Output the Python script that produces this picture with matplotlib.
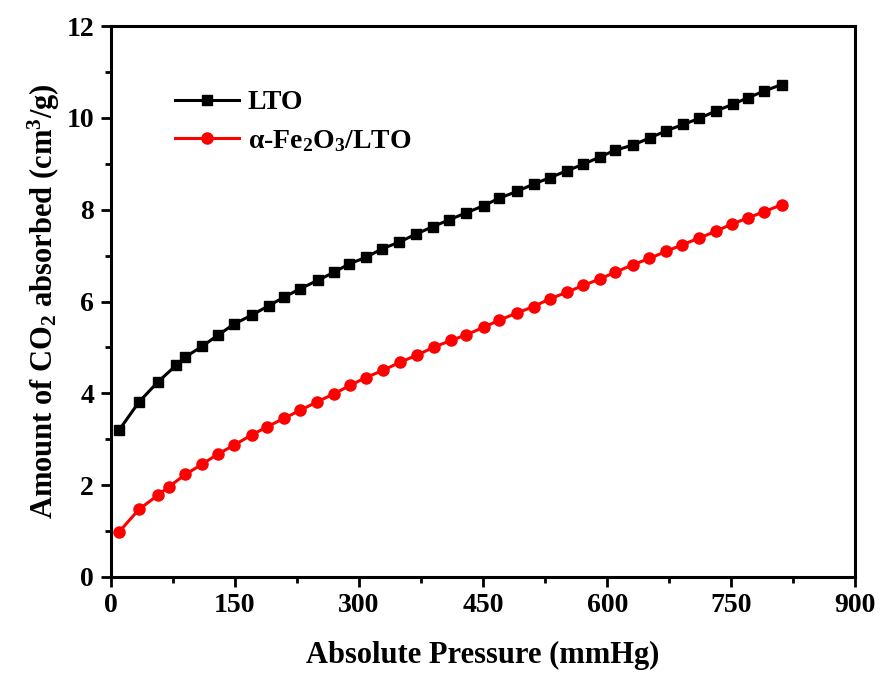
import matplotlib
matplotlib.use("Agg")
import matplotlib.pyplot as plt
from matplotlib.ticker import MultipleLocator

plt.rcParams['font.family'] = ['Liberation Serif', 'DejaVu Serif']
plt.rcParams['font.weight'] = 'bold'
plt.rcParams['mathtext.fontset'] = 'custom'
plt.rcParams['mathtext.rm'] = 'Liberation Serif:bold'
plt.rcParams['mathtext.it'] = 'Liberation Serif:bold'
plt.rcParams['mathtext.bf'] = 'Liberation Serif:bold'

# LTO isotherm
lto_p = [10, 34, 57, 79, 90, 110, 129, 149, 171, 191, 209, 229, 250, 270, 288,
         308, 328, 348, 369, 389, 409, 429, 451, 469, 491, 511, 531, 551, 571,
         591, 610, 631, 652, 671, 692, 711, 731, 752, 770, 790, 811]
lto_q = [3.20, 3.81, 4.25, 4.61, 4.79, 5.02, 5.26, 5.51, 5.71, 5.91, 6.09, 6.28,
         6.46, 6.64, 6.82, 6.96, 7.15, 7.29, 7.47, 7.63, 7.78, 7.93, 8.09, 8.25,
         8.40, 8.56, 8.70, 8.85, 8.99, 9.15, 9.30, 9.41, 9.57, 9.72, 9.86, 9.99,
         10.15, 10.30, 10.44, 10.59, 10.73]

# alpha-Fe2O3/LTO isotherm
fe_p = [10, 34, 57, 70, 90, 110, 129, 149, 170, 189, 209, 229, 249, 270, 289,
        308, 329, 350, 370, 391, 411, 429, 451, 469, 491, 511, 531, 551, 571,
        591, 610, 631, 651, 671, 691, 711, 731, 751, 770, 790, 811]
fe_q = [0.98, 1.47, 1.78, 1.96, 2.23, 2.45, 2.67, 2.87, 3.09, 3.27, 3.45, 3.63,
        3.81, 3.99, 4.17, 4.34, 4.50, 4.68, 4.83, 5.01, 5.15, 5.27, 5.44, 5.59,
        5.75, 5.89, 6.06, 6.20, 6.35, 6.49, 6.64, 6.80, 6.94, 7.09, 7.24, 7.38,
        7.53, 7.69, 7.82, 7.96, 8.11]

fig = plt.figure(figsize=(8.8, 6.73), dpi=100)
ax = fig.add_axes([0.126, 0.143, 0.846, 0.818])

ax.plot(lto_p, lto_q, color='black', marker='s', markersize=7.5, linewidth=2.2, label='LTO')
ax.plot(fe_p, fe_q, color='red', marker='o', markersize=8, linewidth=2.2,
        label='α-Fe$_2$O$_3$/LTO')

ax.set_xlim(0, 900)
ax.set_ylim(0, 12)
ax.xaxis.set_major_locator(MultipleLocator(150))
ax.xaxis.set_minor_locator(MultipleLocator(75))
ax.yaxis.set_major_locator(MultipleLocator(2))
ax.yaxis.set_minor_locator(MultipleLocator(1))
ax.tick_params(which='major', direction='out', length=7, width=2, labelsize=20, pad=5)
ax.tick_params(which='minor', direction='out', length=4, width=2)
for s in ax.spines.values():
    s.set_linewidth(2.2)

ax.set_xlabel('Absolute Pressure (mmHg)', fontsize=22, fontweight='bold', labelpad=16)
ax.set_ylabel('Amount of CO$_2$ absorbed (cm$^3$/g)', fontsize=22, fontweight='bold', labelpad=3)

leg = ax.legend(loc='upper left', bbox_to_anchor=(0.053, 0.93), frameon=False,
                fontsize=20, handlelength=2.3, handletextpad=0.3, labelspacing=0.45)

fig.savefig('out.png', dpi=100)
